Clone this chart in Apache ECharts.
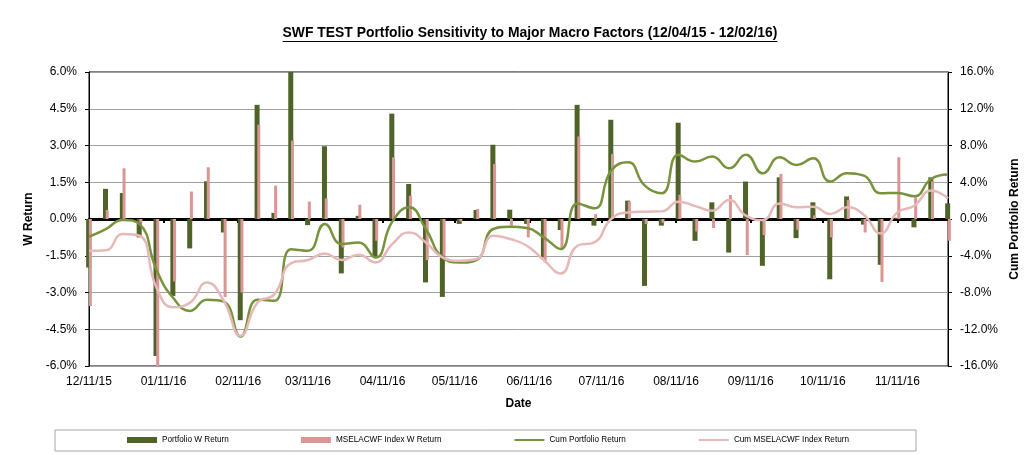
<!DOCTYPE html>
<html>
<head>
<meta charset="utf-8">
<script src="https://cdn.jsdelivr.net/npm/echarts@6/dist/echarts.min.js"></script>
<style>
  html, body { margin: 0; padding: 0; background: #fff; }
  #chart { width: 1024px; height: 455px; }
</style>
</head>
<body>
<div id="chart"></div>
<script>
// weekly observation dates
const weekDates = [
  '2015-12-11', '2015-12-18', '2015-12-25', '2016-01-01', '2016-01-08', '2016-01-15', '2016-01-22', '2016-01-29',
  '2016-02-05', '2016-02-12', '2016-02-19', '2016-02-26', '2016-03-04', '2016-03-11', '2016-03-18', '2016-03-25',
  '2016-04-01', '2016-04-08', '2016-04-15', '2016-04-22', '2016-04-29', '2016-05-06', '2016-05-13', '2016-05-20',
  '2016-05-27', '2016-06-03', '2016-06-10', '2016-06-17', '2016-06-24', '2016-07-01', '2016-07-08', '2016-07-15',
  '2016-07-22', '2016-07-29', '2016-08-05', '2016-08-12', '2016-08-19', '2016-08-26', '2016-09-02', '2016-09-09',
  '2016-09-16', '2016-09-23', '2016-09-30', '2016-10-07', '2016-10-14', '2016-10-21', '2016-10-28', '2016-11-04',
  '2016-11-11', '2016-11-18', '2016-11-25', '2016-12-02'
];

// weekly returns (%), left axis
const portfolioW = [
  -1.98, 1.23, 1.06, -0.75, -5.59, -3.14, -1.2, 1.54, -0.55, -4.13, 4.66, 0.25, 6.0,
  -0.25, 2.97, -2.22, 0.13, -1.57, 4.3, 1.43, -2.59, -3.18, -0.2, 0.37, 3.03,
  0.38, -0.2, -1.57, -0.45, 4.66, -0.27, 4.05, 0.75, -2.73, -0.27, 3.93, -0.89,
  0.68, -1.37, 1.53, -1.91, 1.7, -0.78, 0.68, -2.46, 0.92, -0.23, -1.87, 0.05, -0.34, 1.7, 0.64
];
const indexW = [
  -3.55, 0.37, 2.07, -0.15, -6.1, -2.55, 1.12, 2.11, -3.18, -3.0, 3.85, 1.36, 3.2,
  0.71, 0.84, -1.16, 0.58, -0.89, 2.52, 0.95, -1.68, -1.5, -0.1, 0.41, 2.25,
  -0.27, -0.75, -1.77, -1.23, 3.37, 0.2, 2.66, 0.72, -0.2, -0.15, 0.99, -0.51,
  -0.37, 0.98, -1.47, -0.66, 1.84, -0.44, 0.15, -0.75, 0.78, -0.55, -2.57, 2.52, 0.89, 1.54, -0.89
];

// cumulative returns (%), right axis
const cumPortfolio = [
  -1.93, -1.09, -0.11, -0.55, -5.5, -8.6, -10.0, -8.8, -9.0, -12.8, -8.8, -8.9, -3.3,
  -3.46, -0.55, -2.73, -2.55, -4.19, -0.3, 1.27, -1.09, -4.19, -4.73, -4.47, -1.09,
  -0.84, -0.98, -2.0, -3.27, 1.7, 1.16, 5.27, 6.17, 3.63, 2.8, 7.0, 6.25,
  6.8, 5.52, 6.98, 4.97, 6.72, 5.89, 6.61, 4.07, 4.97, 4.72, 2.8, 2.84, 2.47, 4.36, 4.83
];
const cumIndex = [
  -3.46, -3.4, -1.64, -1.82, -7.45, -9.6, -9.1, -6.9, -8.9, -12.7, -9.1, -8.2, -4.8,
  -4.47, -3.75, -4.47, -3.9, -4.73, -2.73, -1.46, -2.55, -4.19, -4.55, -4.36, -1.82,
  -2.18, -2.91, -4.47, -5.93, -2.91, -2.55, 0.0, 0.72, 0.8, 0.83, 1.89, 1.4,
  0.9, 2.07, 0.36, -0.11, 1.7, 1.27, 1.34, 0.54, 1.27, 0.47, -1.57, 0.72, 1.45, 3.09, 2.25
];

// x axis tick labels
const monthTicks = [
  '2015-12-11', '2016-01-11', '2016-02-11', '2016-03-11', '2016-04-11', '2016-05-11',
  '2016-06-11', '2016-07-11', '2016-08-11', '2016-09-11', '2016-10-11', '2016-11-11'
];

const titleText = 'SWF TEST Portfolio Sensitivity to Major Macro Factors (12/04/15 - 12/02/16)';

function toTime(s) {
  const p = s.split('-').map(Number);
  return new Date(p[0], p[1] - 1, p[2]).getTime();
}
function fmtDate(v) {
  const d = new Date(v);
  const pad = n => (n < 10 ? '0' : '') + n;
  return pad(d.getMonth() + 1) + '/' + pad(d.getDate()) + '/' + pad(d.getFullYear() % 100);
}
const pct = v => v.toFixed(1) + '%';

const times = weekDates.map(toTime);
const tickTimes = monthTicks.map(toTime);
const xMin = times[0];
const xMax = times[times.length - 1];
const pairs = arr => arr.map((v, i) => [times[i], v]);

const FONT = "'Liberation Sans', Arial, sans-serif";
const TITLE_SIZE = 13.9;

// title width for the underline
const ctx = document.createElement('canvas').getContext('2d');
ctx.font = 'bold ' + TITLE_SIZE + "px 'Liberation Sans'";
const titleW = ctx.measureText(titleText).width;
const titleCx = 530;

const chart = echarts.init(document.getElementById('chart'));

chart.setOption({
  animation: false,
  backgroundColor: '#fff',
  title: {
    text: titleText,
    left: titleCx - titleW / 2,
    top: 26,
    padding: 0,
    textStyle: { fontFamily: FONT, fontWeight: 'bold', fontSize: TITLE_SIZE, color: '#000' }
  },
  graphic: [{
    type: 'line',
    shape: { x1: titleCx - titleW / 2, y1: 41.5, x2: titleCx + titleW / 2, y2: 41.5 },
    style: { stroke: '#000', lineWidth: 1.2 }
  }],
  grid: {
    left: 89, right: 76, top: 72, bottom: 89,
    outerBoundsMode: 'none',
    show: true, borderColor: '#000', borderWidth: 1
  },
  legend: {
    left: 55, top: 430,
    padding: [6, 67, 7, 72],
    itemGap: 72, itemWidth: 30, itemHeight: 6,
    borderColor: '#a6a6a6', borderWidth: 1,
    textStyle: { fontFamily: FONT, fontSize: 8.2, color: '#000' },
    data: [
      { name: 'Portfolio W Return', icon: 'rect' },
      { name: 'MSELACWF Index W Return', icon: 'rect' },
      { name: 'Cum Portfolio Return', itemStyle: { opacity: 0 } },
      { name: 'Cum MSELACWF Index Return', itemStyle: { opacity: 0 } }
    ]
  },
  xAxis: [
    {
      type: 'value', min: xMin, max: xMax, position: 'bottom',
      name: 'Date', nameLocation: 'middle', nameGap: 32,
      nameTextStyle: { fontFamily: FONT, fontWeight: 'bold', fontSize: 12, color: '#000' },
      axisLine: { show: false, onZero: false },
      axisTick: { show: false },
      splitLine: { show: false },
      axisLabel: {
        customValues: tickTimes, formatter: fmtDate, margin: 10,
        fontFamily: FONT, fontSize: 12, color: '#000'
      }
    },
    {
      type: 'value', min: xMin, max: xMax, position: 'bottom',
      axisLine: { show: true, onZero: true, onZeroAxisIndex: 0, lineStyle: { color: '#000', width: 3 } },
      axisTick: { show: true, customValues: tickTimes, length: 4, lineStyle: { color: '#000', width: 2 } },
      axisLabel: { show: false },
      splitLine: { show: false }
    }
  ],
  yAxis: [
    {
      type: 'value', min: -6, max: 6, interval: 1.5, position: 'left',
      name: 'W Return', nameLocation: 'middle', nameGap: 45, nameRotate: 90,
      nameTextStyle: { fontFamily: FONT, fontWeight: 'bold', fontSize: 12, color: '#000' },
      axisLine: { show: true, lineStyle: { color: '#000', width: 1 } },
      axisTick: { show: true, length: 4, lineStyle: { color: '#000' } },
      splitLine: { show: true, lineStyle: { color: '#a0a0a0', width: 1 } },
      axisLabel: { formatter: pct, margin: 12, fontFamily: FONT, fontSize: 12, color: '#000' }
    },
    {
      type: 'value', min: -16, max: 16, interval: 4, position: 'right',
      name: 'Cum Portfolio Return', nameLocation: 'middle', nameGap: 58, nameRotate: 90,
      nameTextStyle: { fontFamily: FONT, fontWeight: 'bold', fontSize: 12, color: '#000' },
      axisLine: { show: true, lineStyle: { color: '#000', width: 1 } },
      axisTick: { show: true, length: 4, lineStyle: { color: '#000' } },
      splitLine: { show: false },
      axisLabel: { formatter: pct, margin: 12, fontFamily: FONT, fontSize: 12, color: '#000' }
    }
  ],
  series: [
    {
      name: 'Portfolio W Return', type: 'bar', xAxisIndex: 0, yAxisIndex: 0,
      barWidth: 5, barGap: '-46%',
      itemStyle: { color: '#4f6228' },
      data: pairs(portfolioW)
    },
    {
      name: 'MSELACWF Index W Return', type: 'bar', xAxisIndex: 0, yAxisIndex: 0,
      barWidth: 3,
      itemStyle: { color: '#d99694' },
      data: pairs(indexW)
    },
    {
      name: 'Cum Portfolio Return', type: 'line', xAxisIndex: 0, yAxisIndex: 1,
      smooth: 0.5, symbol: 'none',
      lineStyle: { color: '#77933c', width: 2.5 },
      itemStyle: { color: '#77933c' },
      data: pairs(cumPortfolio)
    },
    {
      name: 'Cum MSELACWF Index Return', type: 'line', xAxisIndex: 0, yAxisIndex: 1,
      smooth: 0.5, symbol: 'none',
      lineStyle: { color: '#e6b9b8', width: 2.5 },
      itemStyle: { color: '#e6b9b8' },
      data: pairs(cumIndex)
    }
  ]
});
</script>
</body>
</html>
